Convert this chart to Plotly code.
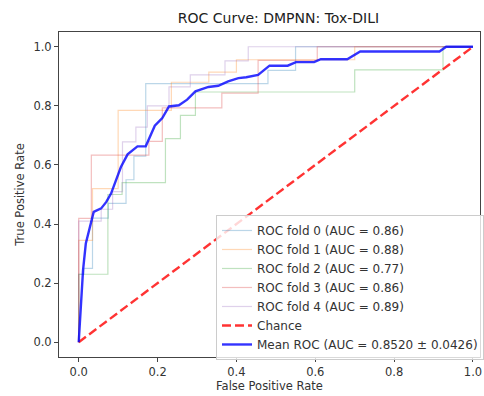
import plotly.graph_objects as go

# ---- data ----
fold0_fpr = [0, 0, 0.013, 0.013, 0.035, 0.035, 0.075, 0.075, 0.12, 0.12, 0.14, 0.14, 0.17, 0.17, 0.48, 0.48, 0.55, 0.55, 1.0]
fold0_tpr = [0, 0.23, 0.23, 0.25, 0.25, 0.42, 0.42, 0.47, 0.47, 0.55, 0.55, 0.63, 0.63, 0.875, 0.875, 0.92, 0.92, 1.0, 1.0]

fold1_fpr = [0, 0, 0.035, 0.035, 0.10, 0.10, 0.235, 0.235, 0.33, 0.33, 0.40, 0.40, 0.70, 0.70, 1.0]
fold1_tpr = [0, 0.345, 0.345, 0.52, 0.52, 0.785, 0.785, 0.88, 0.88, 0.914, 0.914, 0.956, 0.956, 1.0, 1.0]

fold2_fpr = [0, 0, 0.074, 0.074, 0.11, 0.11, 0.22, 0.22, 0.258, 0.258, 0.296, 0.296, 0.70, 0.70, 0.924, 0.924, 1.0]
fold2_tpr = [0, 0.23, 0.23, 0.50, 0.50, 0.54, 0.54, 0.689, 0.689, 0.768, 0.768, 0.847, 0.847, 0.922, 0.922, 1.0, 1.0]

fold3_fpr = [0, 0, 0.032, 0.032, 0.178, 0.178, 0.212, 0.212, 0.363, 0.363, 0.455, 0.455, 0.605, 0.605, 1.0]
fold3_tpr = [0, 0.419, 0.419, 0.633, 0.633, 0.68, 0.68, 0.793, 0.793, 0.843, 0.843, 0.954, 0.954, 1.0, 1.0]

fold4_fpr = [0, 0, 0.057, 0.057, 0.086, 0.086, 0.111, 0.111, 0.145, 0.145, 0.174, 0.174, 0.229, 0.229, 0.283, 0.283, 0.371, 0.371, 0.43, 0.43, 1.0]
fold4_tpr = [0, 0.41, 0.41, 0.45, 0.45, 0.51, 0.51, 0.678, 0.678, 0.728, 0.728, 0.80, 0.80, 0.864, 0.864, 0.905, 0.905, 0.952, 0.952, 1.0, 1.0]

fold_aucs = [0.86, 0.88, 0.77, 0.86, 0.89]

mean_fpr = [0, 0.011, 0.018, 0.028, 0.038, 0.057, 0.07, 0.082, 0.095, 0.107, 0.124, 0.149, 0.17,
            0.183, 0.193, 0.212, 0.229, 0.254, 0.275, 0.296, 0.329, 0.354, 0.379, 0.405, 0.425,
            0.455, 0.484, 0.53, 0.551, 0.597, 0.614, 0.681, 0.714, 0.915, 0.932, 1.0]
mean_tpr = [0, 0.244, 0.334, 0.39, 0.441, 0.453, 0.475, 0.503, 0.548, 0.593, 0.636, 0.663, 0.663,
            0.706, 0.733, 0.759, 0.798, 0.802, 0.821, 0.849, 0.864, 0.868, 0.883, 0.894, 0.897,
            0.905, 0.936, 0.936, 0.948, 0.948, 0.958, 0.958, 0.984, 0.984, 1.0, 1.0]
mean_auc = 0.8520
std_auc = 0.0426

chance_x = [0, 1]
chance_y = [0, 1]

tick_vals = [0.0, 0.2, 0.4, 0.6, 0.8, 1.0]
tick_text = ["0.0", "0.2", "0.4", "0.6", "0.8", "1.0"]

fold_colors = ["rgba(31,119,180,0.3)", "rgba(255,127,14,0.3)", "rgba(44,160,44,0.3)",
               "rgba(214,39,40,0.3)", "rgba(148,103,189,0.3)"]

FONT = "DejaVu Sans"

fig = go.Figure()
folds = [(fold0_fpr, fold0_tpr), (fold1_fpr, fold1_tpr), (fold2_fpr, fold2_tpr),
         (fold3_fpr, fold3_tpr), (fold4_fpr, fold4_tpr)]
for i, (fx, fy) in enumerate(folds):
    fig.add_trace(go.Scatter(x=fx, y=fy, mode="lines",
                             line=dict(color=fold_colors[i], width=1.2),
                             name=f"ROC fold {i} (AUC = {fold_aucs[i]:.2f})"))

fig.add_trace(go.Scatter(x=chance_x, y=chance_y, mode="lines",
                         line=dict(color="rgba(255,0,0,0.8)", width=2.4, dash="9px,4px"),
                         name="Chance"))
fig.add_trace(go.Scatter(x=mean_fpr, y=mean_tpr, mode="lines",
                         line=dict(color="rgba(0,0,255,0.8)", width=2.4),
                         name=f"Mean ROC (AUC = {mean_auc:.4f} \u00b1 {std_auc:.4f})"))

axis_common = dict(showgrid=False, zeroline=False, showline=True, mirror=True,
                   linecolor="#444", linewidth=1, ticks="outside", ticklen=4,
                   tickcolor="#444", tickwidth=1, tickvals=tick_vals, ticktext=tick_text,
                   automargin=False,
                   tickfont=dict(family=FONT, size=11.5, color="#333"))

fig.update_layout(
    width=484, height=396,
    margin=dict(l=59, r=0, t=32, b=39),
    paper_bgcolor="white", plot_bgcolor="white",
    font=dict(family=FONT, size=11.5, color="#333"),
    title=dict(text="ROC Curve: DMPNN: Tox-DILI", x=0.5754, xref="container", xanchor="center",
               y=1 - 18 / 396, yanchor="middle", yref="container",
               font=dict(family=FONT, size=14, color="#222")),
    xaxis=dict(range=[-0.05, 1.0178], title=dict(text="False Positive Rate", standoff=2,
               font=dict(family=FONT, size=11.5, color="#333")), **axis_common),
    yaxis=dict(range=[-0.05, 1.05], title=dict(text="True Positive Rate", standoff=6,
               font=dict(family=FONT, size=11.5, color="#333")), **axis_common),
    legend=dict(x=0.373, y=0.437, xanchor="left", yanchor="top",
                bgcolor="rgba(255,255,255,0.8)", bordercolor="#ccc", borderwidth=1,
                font=dict(family=FONT, size=12, color="#333")),
    showlegend=True,
)

fig.write_html("out.html", config={"displayModeBar": False},
               post_script="document.body.style.margin='0';document.body.style.overflow='hidden';")
